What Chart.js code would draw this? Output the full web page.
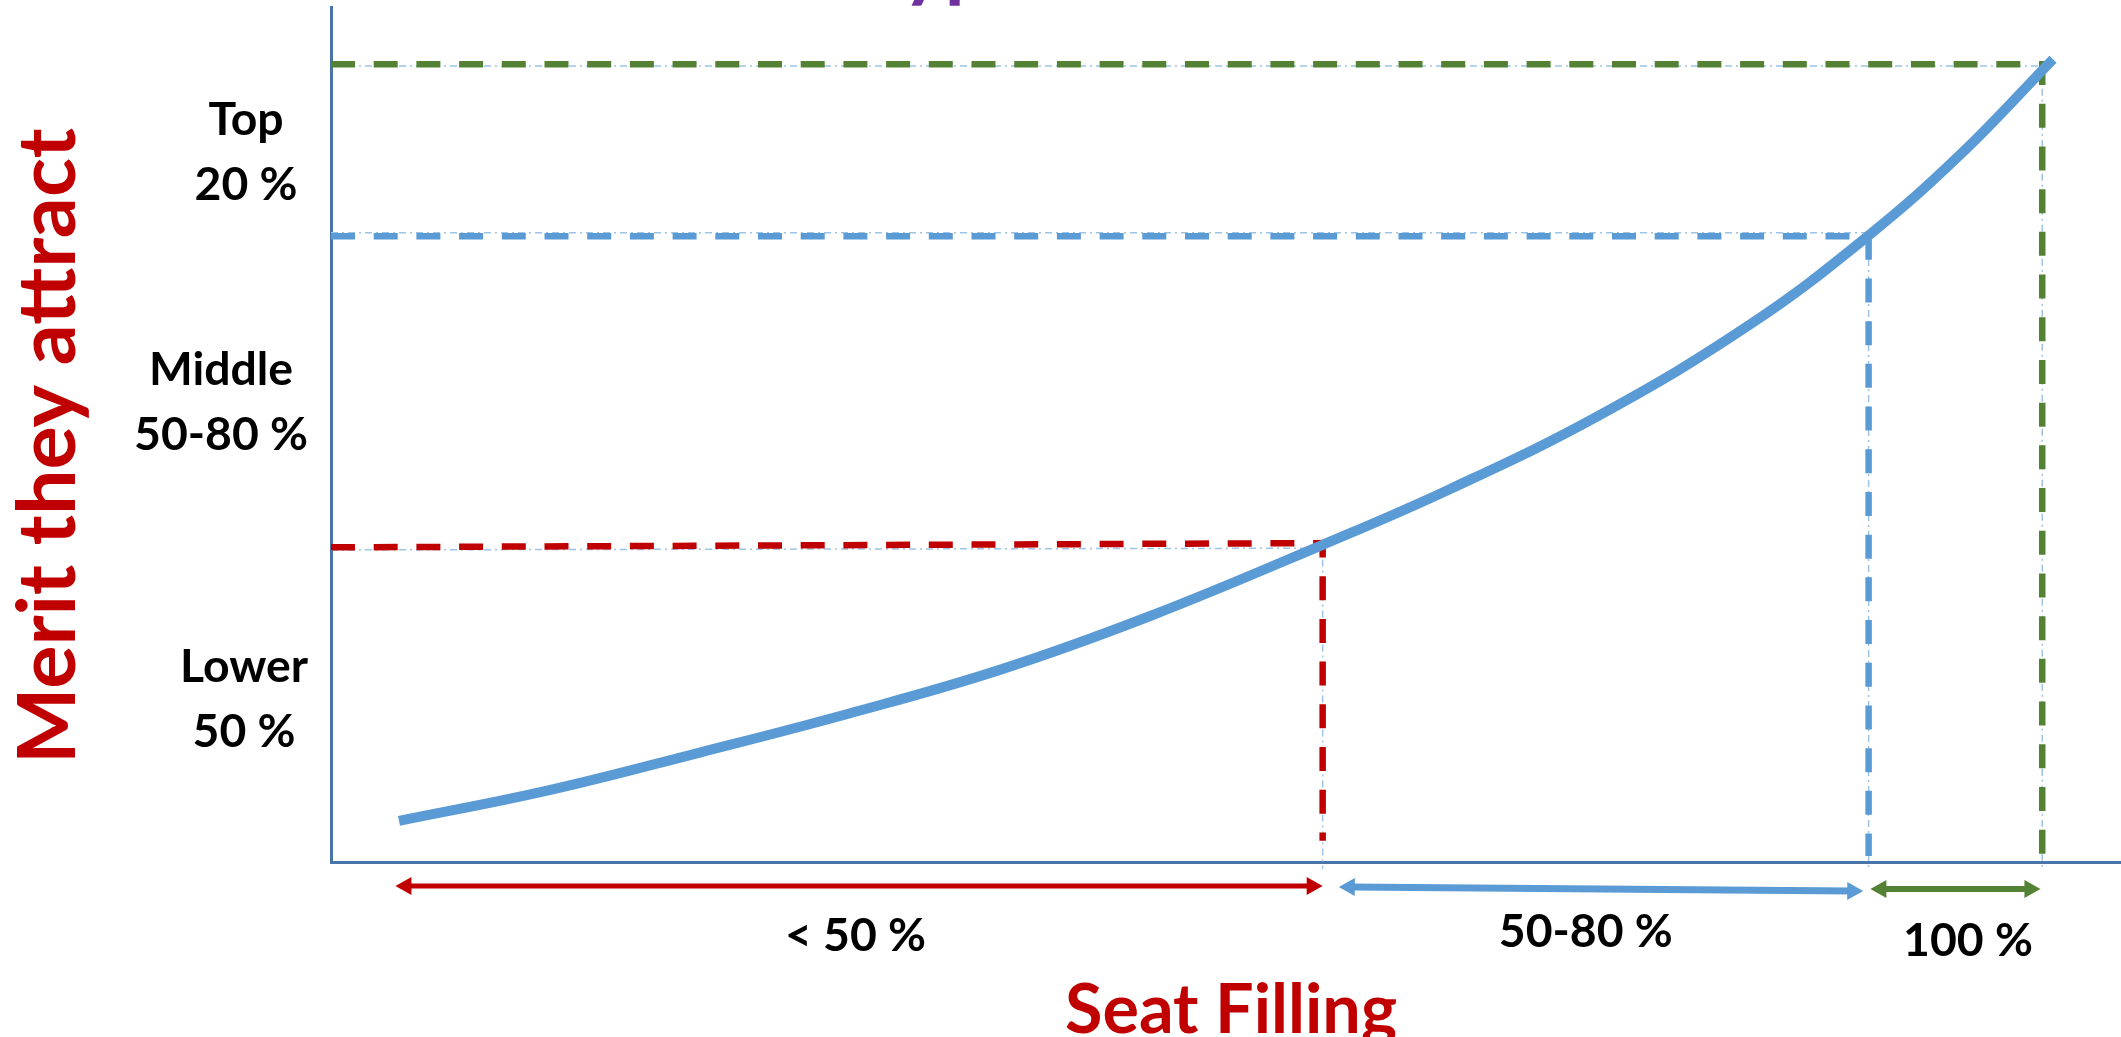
<!DOCTYPE html>
<html>
<head>
<meta charset="utf-8">
<title>Seat Filling vs Merit</title>
<script src="https://cdn.jsdelivr.net/npm/chart.js@4/dist/chart.umd.min.js"></script>
<style>
  html, body { margin: 0; padding: 0; background: #ffffff; overflow: hidden; }
  #wrap { width: 2121px; height: 1037px; }
</style>
</head>
<body>
<div id="wrap"><canvas id="chart" width="2121" height="1037"></canvas></div>
<script>
// ---- data (both axes on a 0–100 relative scale) ----
const seatFilling    = [3.8, 12.2, 20.6, 29.0, 37.4, 45.8, 55.4, 62.5, 70.9, 79.3, 85.8, 91.0, 96.2];
const meritAttracted = [4.8, 8.4, 12.8, 17.4, 22.5, 28.8, 37.1, 43.6, 52.3, 62.9, 73.1, 82.7, 93.9];

// seat-filling bands: where each band starts / ends, and the merit level it reaches
const bandNames   = ['< 50 %', '50-80 %', '100 %'];
const bandStart   = [3.6, 56.3, 86.0];
const bandEnd     = [55.4, 85.6, 95.5];
const bandCutoff  = [55.4, 85.9, 95.6];
const bandLevelL  = [36.8, 73.2, 93.3];
const bandLevelR  = [37.3, 73.2, 93.3];
const bandDropEnd = [2.5, 0.7, 0.5];
const guideLevelL = [36.5, 73.6, 93.1];
const guideLevelR = [36.7, 73.6, 93.1];

// merit bands shown beside the vertical axis
const meritBands = [['Top', '20 %'], ['Middle', '50-80 %'], ['Lower', '50 %']];

const yTitle = 'Merit they attract';
const xTitle = 'Seat Filling';
const slideTitle = 'Hypothesis';

// ---- styling / layout ----
const COLORS = { red: '#C00000', blue: '#5B9BD5', green: '#548235', guide: '#9DC3E6',
                 axis: '#4874A8', text: '#000000', title: '#7030A0' };
const bandColors = [COLORS.red, COLORS.blue, COLORS.green];
const FONT = "Lato, 'Open Sans', sans-serif";
const WEIGHT = 'bold';
const LAYOUT = {
  meritLabelBase: [85.0, 55.8, 21.1],   // first-line baselines (merit value)
  meritLabelDx: [-85, -110, -87],       // label centres, px left of the axis
  lineGap: 65,
  arrowY: [[24, 24], [25, 29], [27, 27]],
  arrowW: [5, 7, 6],
  bandLabelX: [29.3, 70.1, 91.45],
  bandLabelY: [89, 85, 94],             // baseline, px below the axis
  yTitleX: 75, yTitleY: 446,
  xTitleX: 1231, xTitleY: 1033,
  slideTitleX: 903
};

function fitSize(ctx, text, target) {
  ctx.font = `${WEIGHT} 100px ${FONT}`;
  return 100 * target / ctx.measureText(text).width;
}

const canvas = document.getElementById('chart');
const c2d = canvas.getContext('2d');
const LABEL_PX = fitSize(c2d, '50-80 %', 174);
const YTITLE_PX = fitSize(c2d, yTitle, 636);
const XTITLE_PX = fitSize(c2d, xTitle, 332);

const curvePoints = seatFilling.map((v, i) => ({ x: v, y: meritAttracted[i] }));

const datasets = [{
  label: 'Merit vs seat filling',
  data: curvePoints,
  borderColor: COLORS.blue,
  borderWidth: 10,
  borderCapStyle: 'butt',
  tension: 0.4,
  showLine: true,
  pointRadius: 0,
  order: 0
}];

bandNames.forEach((name, i) => {
  datasets.push({
    label: name + ' cut-off',
    data: [{ x: 0, y: bandLevelL[i] }, { x: bandCutoff[i], y: bandLevelR[i] },
           { x: bandCutoff[i], y: bandDropEnd[i] }],
    borderColor: bandColors[i],
    borderWidth: 6.5,
    borderDash: [24, 18.7],
    borderCapStyle: 'butt',
    borderJoinStyle: 'miter',
    showLine: true,
    pointRadius: 0,
    tension: 0,
    order: 1
  });
  datasets.push({
    label: name + ' guide',
    data: [{ x: 0, y: guideLevelL[i] }, { x: bandCutoff[i], y: guideLevelR[i] },
           { x: bandCutoff[i], y: -0.8 }],
    borderColor: COLORS.guide,
    borderWidth: 1.5,
    borderDash: [7, 4, 2, 4],
    showLine: true,
    pointRadius: 0,
    tension: 0,
    clip: false,
    order: 2
  });
});

function drawArrow(ctx, x1, y1, x2, y2, color, w) {
  const head = 16, half = 9;
  const a = Math.atan2(y2 - y1, x2 - x1);
  const ux = Math.cos(a), uy = Math.sin(a);
  const nx = -uy, ny = ux;
  ctx.strokeStyle = color;
  ctx.fillStyle = color;
  ctx.lineWidth = w;
  ctx.beginPath();
  ctx.moveTo(x1 + ux * head * 0.7, y1 + uy * head * 0.7);
  ctx.lineTo(x2 - ux * head * 0.7, y2 - uy * head * 0.7);
  ctx.stroke();
  [[x1, y1, -1], [x2, y2, 1]].forEach(([px, py, s]) => {
    const bx = px - s * ux * head, by = py - s * uy * head;
    ctx.beginPath();
    ctx.moveTo(px, py);
    ctx.lineTo(bx + nx * half, by + ny * half);
    ctx.lineTo(bx - nx * half, by - ny * half);
    ctx.closePath();
    ctx.fill();
  });
}

const overlay = {
  id: 'overlay',
  afterDraw(chart) {
    const { ctx, chartArea: area, scales: { x, y } } = chart;
    ctx.save();

    // merit band labels beside the vertical axis
    ctx.fillStyle = COLORS.text;
    ctx.font = `${WEIGHT} ${LABEL_PX}px ${FONT}`;
    ctx.textAlign = 'center';
    ctx.textBaseline = 'alphabetic';
    meritBands.forEach((lines, i) => {
      const cx = area.left + LAYOUT.meritLabelDx[i];
      const base = y.getPixelForValue(LAYOUT.meritLabelBase[i]);
      lines.forEach((t, j) => ctx.fillText(t, cx, base + j * LAYOUT.lineGap));
    });

    // seat-filling band arrows and their labels
    bandNames.forEach((name, i) => {
      drawArrow(ctx,
        x.getPixelForValue(bandStart[i]), area.bottom + LAYOUT.arrowY[i][0],
        x.getPixelForValue(bandEnd[i]), area.bottom + LAYOUT.arrowY[i][1],
        bandColors[i], LAYOUT.arrowW[i]);
      ctx.fillStyle = COLORS.text;
      ctx.font = `${WEIGHT} ${LABEL_PX}px ${FONT}`;
      ctx.textAlign = 'center';
      ctx.fillText(name, x.getPixelForValue(LAYOUT.bandLabelX[i]), area.bottom + LAYOUT.bandLabelY[i]);
    });

    // axis titles
    ctx.fillStyle = COLORS.red;
    ctx.textAlign = 'center';
    ctx.font = `${WEIGHT} ${XTITLE_PX}px ${FONT}`;
    ctx.fillText(xTitle, LAYOUT.xTitleX, LAYOUT.xTitleY);
    ctx.save();
    ctx.font = `${WEIGHT} ${YTITLE_PX}px ${FONT}`;
    ctx.translate(LAYOUT.yTitleX, LAYOUT.yTitleY);
    ctx.rotate(-Math.PI / 2);
    ctx.fillText(yTitle, 0, 0);
    ctx.restore();

    // slide heading, sitting above the top edge
    ctx.fillStyle = COLORS.title;
    ctx.textAlign = 'left';
    ctx.font = `bold ${YTITLE_PX}px ${FONT}`;
    const hW = ctx.measureText(slideTitle[0]).width;
    const desc = ctx.measureText('yp').actualBoundingBoxDescent;
    ctx.fillText(slideTitle, LAYOUT.slideTitleX - hW, 6 - desc);

    ctx.restore();
  }
};

new Chart(c2d, {
  type: 'scatter',
  data: { datasets },
  options: {
    responsive: false,
    animation: false,
    events: [],
    layout: { padding: { left: 331, top: 7, right: 0, bottom: 175 } },
    plugins: { legend: { display: false }, tooltip: { enabled: false }, title: { display: false } },
    scales: {
      x: {
        type: 'linear', min: 0, max: 100,
        ticks: { display: false },
        grid: { display: false, drawTicks: false },
        border: { display: true, color: COLORS.axis, width: 3 }
      },
      y: {
        type: 'linear', min: 0, max: 100,
        ticks: { display: false },
        grid: { display: false, drawTicks: false },
        border: { display: true, color: COLORS.axis, width: 3 }
      }
    }
  },
  plugins: [overlay]
});
</script>
</body>
</html>
